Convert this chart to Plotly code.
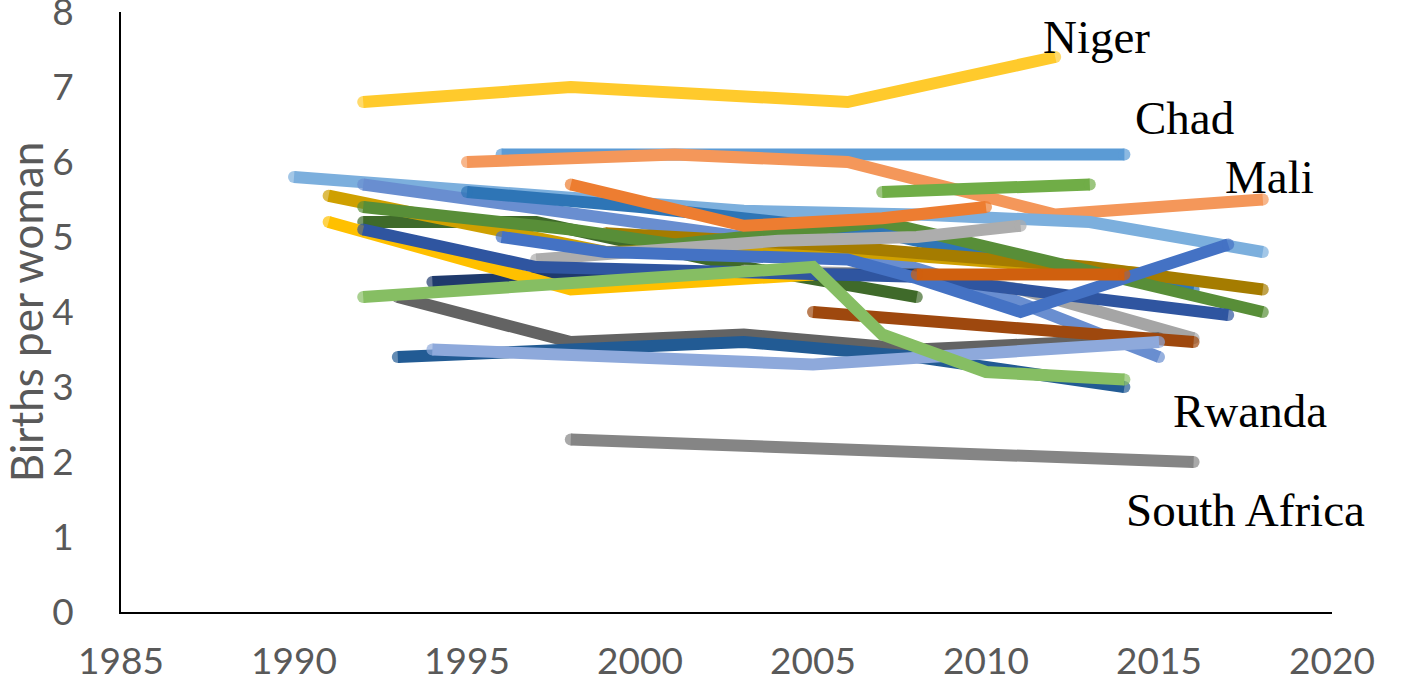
import plotly.graph_objects as go

# ---- data (years, births per woman) ----
niger_years = [1992, 1998, 2006, 2012]
niger_tfr = [6.8, 7.0, 6.8, 7.4]
chad_years = [1996, 2004, 2014]
chad_tfr = [6.1, 6.1, 6.1]
mali_years = [1995, 2001, 2006, 2012, 2018]
mali_tfr = [6.0, 6.1, 6.0, 5.3, 5.5]
nigeria_years = [1990, 2003, 2008, 2013, 2018]
nigeria_tfr = [5.8, 5.35, 5.3, 5.2, 4.8]
rwanda_years = [1992, 1998, 2003, 2007.5, 2010, 2015]
rwanda_tfr = [5.7, 5.3, 5.0, 4.65, 4.3, 3.4]
s6_years = [1995, 2000, 2007, 2010, 2016]
s6_tfr = [5.6, 5.4, 5.05, 4.75, 4.3]
s7_years = [1991, 1999, 2005, 2010, 2015]
s7_tfr = [5.55, 4.8, 4.85, 4.67, 4.5]
s8_years = [1999, 2005, 2013, 2018]
s8_tfr = [5.05, 4.9, 4.6, 4.3]
s9_years = [1992, 1998, 2001, 2007, 2018]
s9_tfr = [5.4, 5.1, 4.9, 5.2, 4.0]
s10_years = [1992, 1997, 2003, 2008]
s10_tfr = [5.2, 5.2, 4.6, 4.2]
s11_years = [2007, 2013]
s11_tfr = [5.6, 5.7]
s12_years = [1998, 2003, 2007, 2010]
s12_tfr = [5.7, 5.15, 5.25, 5.4]
s13_years = [2008, 2014]
s13_tfr = [4.5, 4.5]
s14_years = [2005, 2016]
s14_tfr = [4.0, 3.6]
s15_years = [1997, 2004, 2008, 2011]
s15_tfr = [4.7, 4.95, 5.0, 5.15]
s16_years = [2003, 2008, 2011, 2016]
s16_tfr = [4.55, 4.5, 4.3, 3.65]
s17_years = [1994, 1999, 2008, 2010]
s17_tfr = [4.4, 4.5, 4.5, 4.4]
s18_years = [1991, 1998, 2005]
s18_tfr = [5.2, 4.3, 4.5]
s19_years = [1992, 1997, 2008, 2017]
s19_tfr = [5.1, 4.6, 4.47, 3.96]
s20_years = [1996, 1999, 2006, 2008, 2011, 2017]
s20_tfr = [5.0, 4.8, 4.7, 4.45, 4.0, 4.9]
s21_years = [1993, 1998, 2003, 2008, 2015]
s21_tfr = [4.2, 3.6, 3.7, 3.5, 3.65]
s22_years = [1993, 1998, 2003, 2008, 2014]
s22_tfr = [3.4, 3.5, 3.6, 3.4, 3.0]
s23_years = [1992, 2005, 2007, 2010, 2014]
s23_tfr = [4.2, 4.6, 3.7, 3.2, 3.1]
s24_years = [1994, 2005, 2015]
s24_tfr = [3.5, 3.3, 3.6]
safrica_years = [1998, 2016]
safrica_tfr = [2.3, 2.0]

x_ticks = [1985, 1990, 1995, 2000, 2005, 2010, 2015, 2020]
y_ticks = [0, 1, 2, 3, 4, 5, 6, 7, 8]

series = [
    ("Chad", chad_years, chad_tfr, "#5B9BD5"),
    ("Mali", mali_years, mali_tfr, "#F4975A"),
    ("Nigeria", nigeria_years, nigeria_tfr, "#7CAFDD"),
    ("Rwanda", rwanda_years, rwanda_tfr, "#698ED0"),
    ("Series 6", s6_years, s6_tfr, "#2E75B6"),
    ("Series 10", s10_years, s10_tfr, "#3F6A2A"),
    ("Series 7", s7_years, s7_tfr, "#CFA000"),
    ("Series 8", s8_years, s8_tfr, "#A57C00"),
    ("Series 9", s9_years, s9_tfr, "#588E38"),
    ("Series 12", s12_years, s12_tfr, "#ED7D31"),
    ("Series 15", s15_years, s15_tfr, "#ADADAD"),
    ("Series 16", s16_years, s16_tfr, "#A5A5A5"),
    ("Series 17", s17_years, s17_tfr, "#1F3A6C"),
    ("Series 18", s18_years, s18_tfr, "#FFC000"),
    ("Series 19", s19_years, s19_tfr, "#2F55A0"),
    ("Series 20", s20_years, s20_tfr, "#4472C4"),
    ("Series 11", s11_years, s11_tfr, "#70AD47"),
    ("Series 13", s13_years, s13_tfr, "#D0600E"),
    ("Series 21", s21_years, s21_tfr, "#636363"),
    ("Series 22", s22_years, s22_tfr, "#225B94"),
    ("Series 14", s14_years, s14_tfr, "#9E480E"),
    ("Series 24", s24_years, s24_tfr, "#8EA9DB"),
    ("Series 23", s23_years, s23_tfr, "#86BE63"),
    ("South Africa", safrica_years, safrica_tfr, "#858585"),
    ("Niger", niger_years, niger_tfr, "#FFCA2C"),
]

LW = 12
fig = go.Figure()
for name, xs, ys, col in series:
    # round end caps (like the original) via markers only at the two ends
    sizes = [LW if i in (0, len(xs) - 1) else 0 for i in range(len(xs))]
    fig.add_trace(go.Scatter(
        x=xs, y=ys, mode="lines+markers", name=name,
        line=dict(color=col, width=LW),
        marker=dict(color=col, size=sizes, line=dict(width=0)),
        showlegend=False,
    ))

labels = [
    ("Niger", 2013.2, 7.67, "Liberation Serif", 47),
    ("Chad", 2015.75, 6.59, "Liberation Serif", 47),
    ("Mali", 2018.18, 5.80, "Liberation Serif", 47),
    ("Nigeria", 2020.3, 4.80, "Lato", 46),
    ("Rwanda", 2017.63, 2.68, "Liberation Serif", 47),
    ("South Africa", 2017.5, 1.36, "Liberation Serif", 47),
]
for txt, x, y, fam, size in labels:
    fig.add_annotation(x=x, y=y, xref="x", yref="y", text=txt, showarrow=False,
                       font=dict(family=fam, size=size, color="black"),
                       xanchor="center", yanchor="middle")

axis_font = dict(family="Lato", size=37, color="#595959")
fig.update_layout(
    width=1418, height=681,
    margin=dict(l=121, r=86, t=12, b=69),
    paper_bgcolor="white", plot_bgcolor="white",
    xaxis=dict(range=[1985, 2020], tickvals=x_ticks, showgrid=False, zeroline=False,
               showline=True, linecolor="black", linewidth=2, ticks="",
               automargin=False, ticklabeloverflow="allow",
               tickfont=axis_font, ticklabelstandoff=16),
    yaxis=dict(range=[0, 8], tickvals=y_ticks, showgrid=False, zeroline=False,
               showline=True, linecolor="black", linewidth=2, ticks="",
               automargin=False, ticklabeloverflow="allow",
               tickfont=axis_font, ticklabelstandoff=38,
               title=dict(text="Births per woman", font=dict(family="Lato", size=44, color="#595959"),
                          standoff=14)),
)

fig.write_html("out.html", config={"displayModeBar": False},
               post_script="document.body.style.margin='0';")
